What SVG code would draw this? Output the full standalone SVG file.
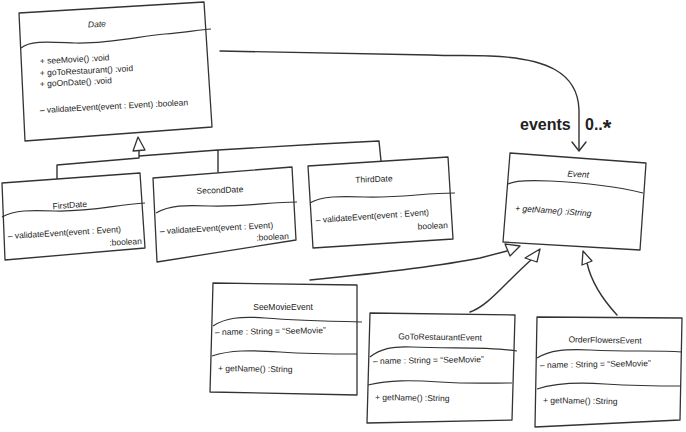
<svg xmlns="http://www.w3.org/2000/svg" width="686" height="432" viewBox="0 0 686 432">
<style>
.box{fill:#fff;stroke:#333;stroke-width:1.3;stroke-linejoin:round}
.div{fill:none;stroke:#333;stroke-width:1.2}
.ln{fill:none;stroke:#333;stroke-width:1.4;stroke-linecap:round;stroke-linejoin:round}
.tri{fill:#fff;stroke:#333;stroke-width:1.3;stroke-linejoin:round}
text{font-family:"Liberation Sans",Arial,sans-serif;font-size:8.5px;fill:#222}
.it{font-style:italic}
.mid{text-anchor:middle}
.end{text-anchor:end}
.lbl{font-size:16px;font-weight:bold;fill:#222}
</style>
<rect width="686" height="432" fill="#fff"/>
<g id="connectors">
  <path class="ln" d="M220,51 L430,55 C455,56 470,55 490,56 C545,58 578,72 579,110 L579,150"/>
  <path class="ln" d="M572,142 L579,151 L586,142"/>
  <path class="ln" d="M139,150 L139,158 M57,179 L57,165 L139,158 M139,156 L218,150 L320,144 L379,141 L381,161 M218,150 L218,173"/>
  <polygon class="tri" points="138,137 133,151 145,150"/>
  <path class="ln" d="M310,280 C390,272 450,264 480,258 L507,251"/>
  <polygon class="tri" points="520,246 505,244 510,256"/>
  <path class="ln" d="M470,312 C488,306 503,285 531,260"/>
  <polygon class="tri" points="540,249 525,258 537,262"/>
  <path class="ln" d="M617,315 C605,302 592,285 587,263"/>
  <polygon class="tri" points="583,251 582,265 592,261"/>
  <text class="lbl" x="520" y="130">events</text>
  <text class="lbl" x="585" y="130">0..<tspan font-size="22" dy="5">*</tspan></text>
</g>
<g id="Date">
  <path class="box" d="M19,13 L204,2 L212,127 L25,141 Z"/>
  <path class="div" d="M21,48 C30,40 50,42 75,43 C110,44 140,36 165,34 C185,32 200,30 211,29"/>
  <text class="it mid" x="97" y="27" transform="rotate(-3 97 27)">Date</text>
  <text x="40" y="64" transform="rotate(-3 40 64)">+ seeMovie() :void</text>
  <text x="40" y="76" transform="rotate(-3 40 76)">+ goToRestaurant() :void</text>
  <text x="40" y="87" transform="rotate(-3 40 87)">+ goOnDate() :void</text>
  <text x="40" y="113" transform="rotate(-3 40 113)">– validateEvent(event : Event) :boolean</text>
</g>
<g id="FirstDate">
  <path class="box" d="M2,183 L140,173 L145,248 L5,260 Z"/>
  <path class="div" d="M2,217 C15,210 30,210 55,211 C90,212 115,205 145,203"/>
  <text class="mid" x="70" y="208" transform="rotate(-4 70 208)">FirstDate</text>
  <text x="8" y="239" transform="rotate(-3.5 8 239)">– validateEvent(event : Event)</text>
  <text class="end" x="142" y="244" transform="rotate(-3 142 244)">:boolean</text>
</g>
<g id="SecondDate">
  <path class="box" d="M153,178 L292,167 L296,240 L157,262 Z"/>
  <path class="div" d="M156,213 C170,205 185,205 210,206 C245,207 270,202 297,202"/>
  <text class="mid" x="220" y="193" transform="rotate(-2 220 193)">SecondDate</text>
  <text x="160" y="234" transform="rotate(-3 160 234)">– validateEvent(event : Event)</text>
  <text class="end" x="289" y="239" transform="rotate(-3 289 239)">:boolean</text>
</g>
<g id="ThirdDate">
  <path class="box" d="M308,166 L448,157 L453,239 L313,248 Z"/>
  <path class="div" d="M310,203 C322,196 340,196 365,197 C400,198 425,193 455,193"/>
  <text class="mid" x="374" y="182" transform="rotate(-2 374 182)">ThirdDate</text>
  <text x="316" y="223" transform="rotate(-4 316 223)">– validateEvent(event : Event)</text>
  <text class="end" x="448" y="228" transform="rotate(-3 448 228)">boolean</text>
</g>
<g id="Event">
  <path class="box" d="M510,153 L646,163 L640,250 L503,242 Z"/>
  <path class="div" d="M508,184 C515,180 530,180 550,181 C590,183 615,186 643,193"/>
  <text class="it mid" x="578" y="177" transform="rotate(3 578 177)">Event</text>
  <text class="it" x="515" y="211" transform="rotate(4 515 211)">+ getName() :iString</text>
</g>
<g id="SeeMovieEvent">
  <path class="box" d="M213,283 L357,285 L357,395 L210,392 Z"/>
  <path class="div" d="M213,326 C225,318 240,316 265,318 C290,320 320,321 362,322"/>
  <path class="div" d="M212,356 C230,350 250,350 280,352 C310,354 335,354 357,354"/>
  <text class="mid" x="283" y="310">SeeMovieEvent</text>
  <text x="215" y="335" transform="rotate(-1 215 335)">– name : String = “SeeMovie”</text>
  <text x="218" y="371" transform="rotate(1 218 371)">+ getName() :String</text>
</g>
<g id="GoToRestaurantEvent">
  <path class="box" d="M370,313 L515,315 L512,420 L367,423 Z"/>
  <path class="div" d="M370,357 C380,349 392,346 412,347 C450,349 485,346 517,351"/>
  <path class="div" d="M368,385 C390,380 410,380 440,382 C470,384 490,383 512,383"/>
  <text class="mid" x="440" y="340" transform="rotate(1 440 340)">GoToRestaurantEvent</text>
  <text x="373" y="364" transform="rotate(-1 373 364)">– name : String = “SeeMovie”</text>
  <text x="375" y="400" transform="rotate(1 375 400)">+ getName() :String</text>
</g>
<g id="OrderFlowersEvent">
  <path class="box" d="M537,317 L682,318 L680,420 L535,427 Z"/>
  <path class="div" d="M537,358 C550,350 565,349 590,350 C630,352 655,350 682,352"/>
  <path class="div" d="M537,389 C555,383 575,382 605,384 C640,386 660,386 680,386"/>
  <text class="mid" x="605" y="343" transform="rotate(1 605 343)">OrderFlowersEvent</text>
  <text x="540" y="368" transform="rotate(-1 540 368)">– name : String = “SeeMovie”</text>
  <text x="543" y="403" transform="rotate(1 543 403)">+ getName() :String</text>
</g>
</svg>
